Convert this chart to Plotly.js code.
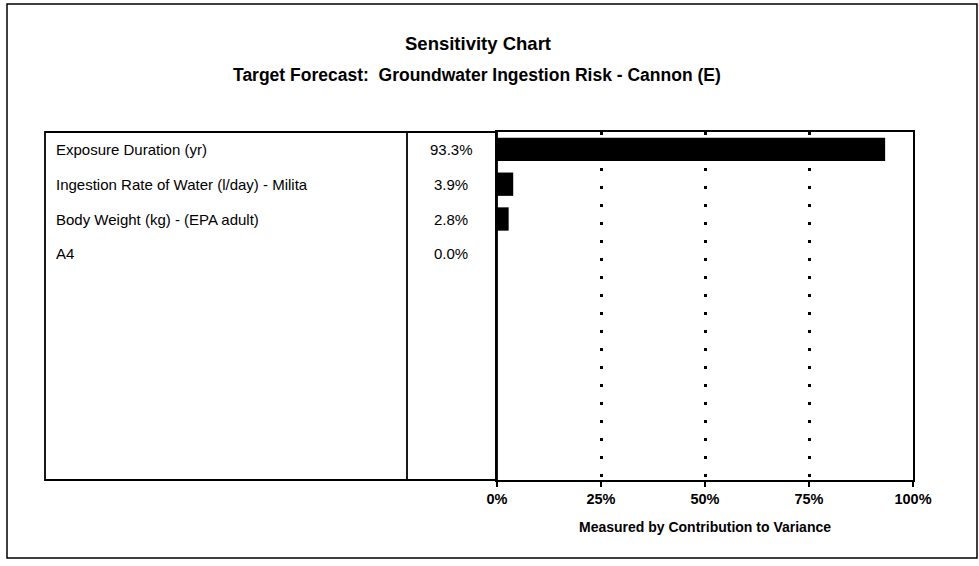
<!DOCTYPE html>
<html>
<head>
<meta charset="utf-8">
<script src="https://cdn.plot.ly/plotly-3.0.1.min.js"></script>
<style>
  html, body { margin: 0; padding: 0; background: #ffffff; }
  #chart { width: 979px; height: 566px; }
</style>
</head>
<body>
<div id="chart"></div>
<script>
// ---- data ----
const categories = [
  "Exposure Duration (yr)",
  "Ingestion Rate of Water (l/day) - Milita",
  "Body Weight (kg) - (EPA adult)",
  "A4"
];
const values = [93.3, 3.9, 2.8, 0.0];
const valueLabels = ["93.3%", "3.9%", "2.8%", "0.0%"];
const tickValues = [0, 25, 50, 75, 100];
const tickLabels = ["0%", "25%", "50%", "75%", "100%"];
const chartTitle = "Sensitivity Chart";
const subTitle = "Target Forecast:\u00a0\u00a0Groundwater Ingestion Risk - Cannon (E)";
const axisTitle = "Measured by Contribution to Variance";
const rowSlots = 10;

// ---- layout helpers (pixels -> paper) ----
const W = 979, H = 566;
const px = v => v / W;
const py = v => 1 - v / H;

const tableTop = 132, tableBottom = 480;
const tableLeft = 45, divider = 407, plotLeft = 497, plotRight = 913;
const FONT = "Arial, 'Liberation Sans', sans-serif";

const rowIdx = categories.map((_, i) => i);

const trace = {
  type: "bar",
  orientation: "h",
  x: values,
  y: rowIdx,
  width: 0.67,
  marker: { color: "#000000", line: { width: 0 } },
  hoverinfo: "skip",
  showlegend: false
};

const annotations = [];
categories.forEach((c, i) => {
  annotations.push({
    xref: "paper", yref: "y", x: px(54), y: i,
    xanchor: "left", yanchor: "middle",
    text: c, showarrow: false,
    font: { family: FONT, size: 15, color: "#000" }
  });
  annotations.push({
    xref: "paper", yref: "y", x: px(451), y: i,
    xanchor: "center", yanchor: "middle",
    text: valueLabels[i], showarrow: false,
    font: { family: FONT, size: 15, color: "#000" }
  });
});
annotations.push({
  xref: "paper", yref: "paper", x: px(477), y: py(75),
  xanchor: "center", yanchor: "middle",
  text: "<b>" + subTitle + "</b>", showarrow: false,
  font: { family: FONT, size: 17.5, color: "#000" }
});

const layout = {
  width: W, height: H,
  margin: { l: 0, r: 0, t: 0, b: 0 },
  paper_bgcolor: "#ffffff",
  plot_bgcolor: "rgba(0,0,0,0)",
  title: {
    text: "<b>" + chartTitle + "</b>",
    x: px(478), y: py(44), xanchor: "center", yanchor: "middle",
    font: { family: FONT, size: 18.5, color: "#000" }
  },
  xaxis: {
    domain: [px(plotLeft), px(plotRight)],
    range: [0, 100],
    tickvals: tickValues,
    ticktext: tickLabels.map(t => "<b>" + t + "</b>"),
    ticks: "outside", ticklen: 5, tickwidth: 1.5, tickcolor: "#000",
    tickfont: { family: FONT, size: 14.5, color: "#000" },
    showgrid: true, gridcolor: "#000", gridwidth: 3, griddash: "3px,15px",
    zeroline: false,
    showline: true, linecolor: "#000", linewidth: 2, mirror: true,
    fixedrange: true,
    title: {
      text: "<b>" + axisTitle + "</b>",
      font: { family: FONT, size: 14, color: "#000" },
      standoff: 16
    }
  },
  yaxis: {
    domain: [py(tableBottom), py(tableTop)],
    range: [rowSlots - 0.5, -0.5],
    showticklabels: false, ticks: "",
    showgrid: false, zeroline: false,
    showline: true, linecolor: "#000", linewidth: 2, mirror: true,
    fixedrange: true
  },
  shapes: [
    { type: "rect", xref: "paper", yref: "paper",
      x0: px(7), x1: px(977), y0: py(558), y1: py(4),
      line: { color: "#000", width: 1.5 } },
    { type: "rect", xref: "paper", yref: "paper",
      x0: px(tableLeft), x1: px(plotLeft), y0: py(tableBottom), y1: py(tableTop),
      line: { color: "#000", width: 1.8 } },
    { type: "line", xref: "paper", yref: "paper",
      x0: px(divider), x1: px(divider), y0: py(tableBottom), y1: py(tableTop),
      line: { color: "#000", width: 1.8 } }
  ],
  annotations: annotations
};

Plotly.newPlot("chart", [trace], layout, { staticPlot: true, displayModeBar: false });
</script>
</body>
</html>
